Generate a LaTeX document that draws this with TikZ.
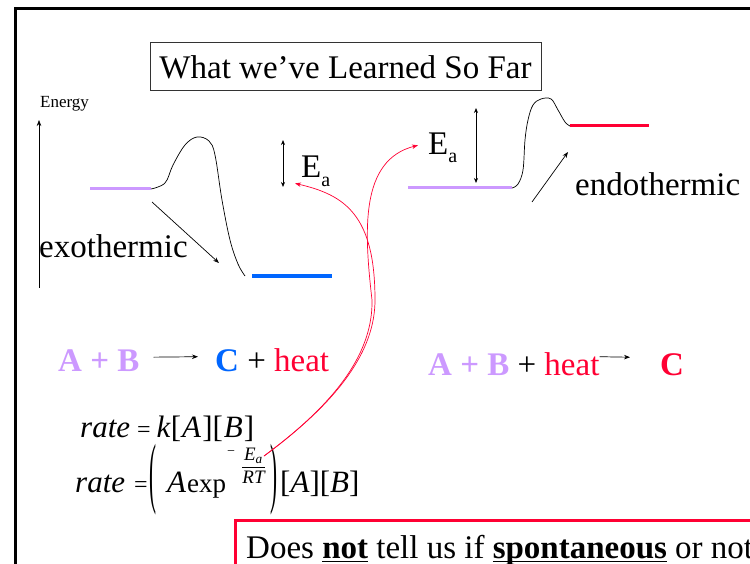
\documentclass[tikz,border=0pt]{standalone}
\usepackage{amsmath}
\usepackage{graphicx}
\usepackage{fontspec}
\setmainfont{Liberation Serif}
\usepackage{xcolor}
\usetikzlibrary{arrows.meta}
\definecolor{lav}{HTML}{CC99FF}
\definecolor{cblue}{HTML}{0066FF}
\definecolor{hred}{HTML}{FF0033}
\newcommand{\smalleq}{{\fontsize{24}{24}\selectfont =}}

\begin{document}
\begin{tikzpicture}[x=1pt, y=-1pt,
    big/.style={font=\fontsize{33}{38}\selectfont, inner sep=0pt},
    eqn/.style={font=\fontsize{31}{34}\selectfont, inner sep=0pt},
    arr/.style={-{Stealth[length=6pt, width=4.5pt]}, line width=0.7pt},
    dbl/.style={{Stealth[length=5pt, width=4pt]}-{Stealth[length=5pt, width=4pt]}, line width=0.7pt},
    redarr/.style={arr, draw=hred},
    lvl/.style={line width=3pt},
    barrier/.style={line width=0.7pt},
    paren/.style={inner sep=0pt, font=\fontsize{31}{34}\selectfont}
  ]
  \useasboundingbox (0,0) rectangle (750,564);
  \clip (0,0) rectangle (750,564);

  %% ── slide frame and title ─────────────────────────────────────────
  \draw[line width=3pt] (15,9) rectangle (800,620);
  \node[big, draw=black!80, line width=1pt, minimum width=391pt, minimum height=48pt]
                                     (title)   at (345.5,67) {What we’ve Learned So Far};

  %% ── energy axis ───────────────────────────────────────────────────
  \node[font=\fontsize{17}{20}\selectfont, anchor=base west, inner sep=0pt]
                                     (energy)  at (40,108)   {Energy};
  \coordinate (ax0) at (39,288);
  \coordinate (ax1) at (39,120);
  \draw[arr, line width=0.6pt] (ax0) -- (ax1);

  %% ── exothermic profile (left) ─────────────────────────────────────
  \draw[lvl, lav] (90,189) -- (151,189);
  \draw[barrier] plot[smooth, tension=0.6] coordinates {(151,189) (165,183) (173,165) (185,145)
        (197,137) (209,141) (215,155) (222,200) (230,240) (238,264) (245,276)};
  \draw[line width=4pt, cblue] (252,276) -- (332,276);
  \coordinate (exo0) at (152,202);
  \coordinate (exo1) at (219,263);
  \draw[arr] (exo0) -- (exo1);
  \node[big, anchor=base west]       (exo)     at (39,258)   {exothermic};

  \coordinate (ea1t) at (283,140);
  \coordinate (ea1b) at (283,187);
  \draw[dbl] (ea1t) -- (ea1b);
  \node[big, anchor=base west]       (ealeft)  at (301,178)  {E\raisebox{-9pt}{\fontsize{20}{20}\selectfont a}};

  %% ── endothermic profile (right) ───────────────────────────────────
  \draw[lvl, lav] (408,188) -- (512,188);
  \draw[barrier] plot[smooth, tension=0.6] coordinates {(512,188) (518,184) (523,170) (525,140)
        (528,120) (533,105) (541,99) (551,99) (558,110) (565,122) (570,126)};
  \draw[lvl, hred] (570,126) -- (649,126);
  \coordinate (endo0) at (532,202);
  \coordinate (endo1) at (568,152);
  \draw[arr] (endo0) -- (endo1);
  \node[big, anchor=base west]       (endo)    at (575,196)  {endothermic};

  \coordinate (ea2t) at (476,108);
  \coordinate (ea2b) at (476,183);
  \draw[dbl] (ea2t) -- (ea2b);
  \node[big, anchor=base west]       (earight) at (428,155)  {E\raisebox{-8pt}{\fontsize{20}{20}\selectfont a}};

  %% ── reactions ─────────────────────────────────────────────────────
  \node[big, anchor=base west]       (ab1)     at (58,371)   {\textcolor{lav}{\textbf{A + B}}};
  \node[big, anchor=base west]       (c1)      at (215,371)  {\textcolor{cblue}{\textbf{C}} + \textcolor{hred}{heat}};
  \draw[arr] ([xshift=14pt, yshift=3pt]ab1.east) -- ([xshift=-17pt, yshift=3pt]c1.west);

  \node[big, anchor=base west]       (ab2)     at (428,375)  {\textcolor{lav}{\textbf{A + B}} + \textcolor{hred}{heat}};
  \node[big, anchor=base west]       (c2)      at (660,375)  {\textcolor{hred}{\textbf{C}}};
  \draw[arr] ([yshift=7pt]ab2.east) -- ([xshift=-30pt, yshift=7pt]c2.west);

  %% ── rate laws ─────────────────────────────────────────────────────
  \node[eqn, anchor=base west]       (rate1)   at (80,437)
        {\textit{rate}\hspace{7pt}\smalleq\hspace{6pt}\textit{k}[\hspace{1pt}\textit{A}\hspace{1pt}][\hspace{1pt}\textit{B}\hspace{1pt}]};
  \node[eqn, anchor=base west]       (rate2)   at (75,492)   {\textit{rate}\hspace{9pt}\smalleq};
  \node[paren]                       (lpar)    at (152.5,479.5) {\resizebox*{7pt}{71pt}{(}};
  \node[eqn, anchor=base west]       (aexp)    at (167,492)  {\textit{A}\hspace{1pt}{\fontsize{27}{30}\selectfont exp}};
  \node[inner sep=0pt, font=\fontsize{14}{14}\selectfont]
                                     (minus)   at (231,453)  {−};
  \node[inner sep=0pt, font=\fontsize{19}{21}\selectfont]
                                     (expo)    at (253.5,466)
        {$\dfrac{\textit{E}_{\textit{a}}}{\textit{RT}}$};
  \node[paren]                       (rpar)    at (274,479.5) {\resizebox*{7pt}{71pt}{)}};
  \node[eqn, anchor=base west]       (brk)     at (280,492)  {[\textit{A}][\textit{B}]};

  %% ── Ea links (red) ────────────────────────────────────────────────
  \coordinate (eaf) at ([xshift=-2pt, yshift=10pt]expo.east);
  \draw[redarr] (eaf) .. controls (340,400) and (375,350) .. (375,300)
                      .. controls (375,215) and (345,195) .. ([xshift=-6pt, yshift=4pt]ealeft.south west);
  \draw[redarr] (eaf) .. controls (340,400) and (373,350) .. (372,300)
                      .. controls (364,230) and (360,160) .. ([xshift=-10pt, yshift=3pt]earight.west);

  %% ── note box ──────────────────────────────────────────────────────
  \draw[hred, line width=3pt] (235,520) rectangle (800,620);
  \node[big, anchor=base west]       (note)    at (246,558)
        {Does \underline{\smash{\textbf{not}}} tell us if \underline{\smash{\textbf{spontaneous}}} or not};

\end{tikzpicture}
\end{document}
